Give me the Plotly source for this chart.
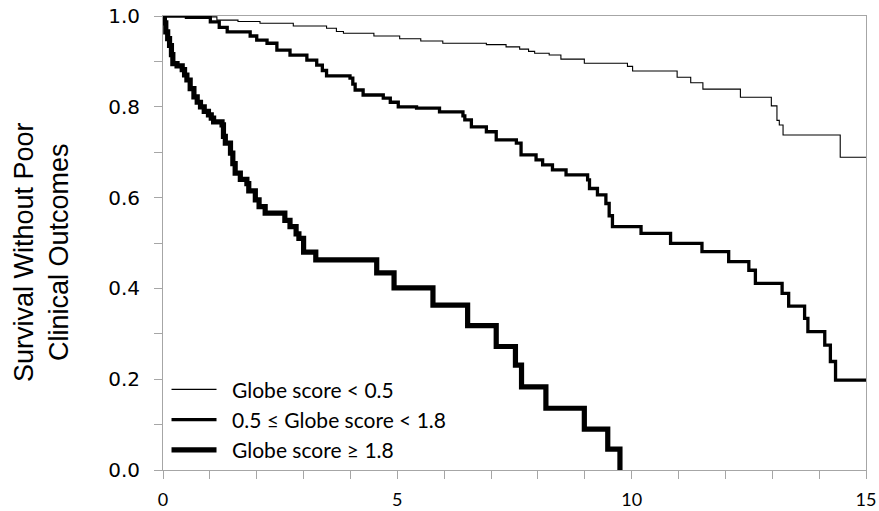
import plotly.graph_objects as go

# Globe score < 0.5 (thin)
low_t = [0, 0.5, 1.15, 1.6, 2.07, 2.78, 3.49, 3.7, 3.85, 4.5, 5.05, 5.5, 5.97, 6.9, 7.32, 7.61,
         7.8, 7.93, 8.24, 8.49, 8.99, 9.91, 10.02, 10.97, 11.26, 11.52, 12.32, 12.98, 13.1,
         13.15, 13.23, 14.45, 15]
low_s = [1.0, 0.998, 0.991, 0.988, 0.984, 0.978, 0.973, 0.966, 0.962, 0.956, 0.95, 0.945, 0.94,
         0.937, 0.932, 0.927, 0.922, 0.918, 0.914, 0.905, 0.896, 0.889, 0.879, 0.865, 0.853,
         0.839, 0.821, 0.802, 0.77, 0.76, 0.738, 0.689, 0.689]

# 0.5 <= Globe score < 1.8 (medium)
mid_t = [0, 0.5, 1.01, 1.2, 1.37, 1.86, 2.0, 2.22, 2.43, 2.71, 3.07, 3.28, 3.4, 3.49, 3.99, 4.05,
         4.1, 4.27, 4.7, 4.85, 5.02, 5.41, 5.9, 6.4, 6.44, 6.58, 6.9, 7.11, 7.54, 7.64, 7.96,
         8.1, 8.31, 8.6, 9.06, 9.1, 9.27, 9.45, 9.52, 9.59, 10.2, 10.83, 11.5, 12.07, 12.5,
         12.64, 13.21, 13.35, 13.69, 13.76, 14.12, 14.24, 14.35, 15]
mid_s = [1.0, 0.997, 0.987, 0.975, 0.965, 0.956, 0.947, 0.94, 0.925, 0.914, 0.903, 0.892, 0.88,
         0.868, 0.863, 0.85, 0.837, 0.826, 0.819, 0.81, 0.8, 0.797, 0.789, 0.78, 0.771, 0.756,
         0.745, 0.727, 0.72, 0.694, 0.683, 0.672, 0.661, 0.65, 0.639, 0.62, 0.606, 0.587, 0.56,
         0.536, 0.521, 0.499, 0.481, 0.459, 0.44, 0.411, 0.389, 0.361, 0.334, 0.305, 0.275,
         0.239, 0.198, 0.198]

# Globe score >= 1.8 (thick)
high_t = [0, 0.03, 0.06, 0.1, 0.14, 0.18, 0.21, 0.3, 0.41, 0.46, 0.51, 0.58, 0.66, 0.73, 0.8,
          0.88, 0.97, 1.03, 1.08, 1.26, 1.29, 1.33, 1.44, 1.49, 1.54, 1.65, 1.79, 1.83, 1.97,
          2.05, 2.18, 2.6, 2.71, 2.84, 2.9, 3.0, 3.26, 4.56, 4.93, 5.76, 6.5, 7.11, 7.52, 7.65,
          8.17, 8.99, 9.49, 9.75]
high_s = [1.0, 0.985, 0.965, 0.95, 0.935, 0.915, 0.895, 0.89, 0.882, 0.87, 0.859, 0.84, 0.822,
          0.81, 0.8, 0.79, 0.782, 0.775, 0.767, 0.76, 0.735, 0.72, 0.698, 0.675, 0.654, 0.64,
          0.631, 0.615, 0.595, 0.58, 0.566, 0.55, 0.536, 0.52, 0.51, 0.48, 0.463, 0.434, 0.401,
          0.363, 0.318, 0.272, 0.231, 0.183, 0.136, 0.09, 0.046, 0.0]

names = ["Globe score < 0.5", "0.5 ≤ Globe score < 1.8", "Globe score ≥ 1.8"]
widths = [1.1, 3.3, 5.2]
y_title = "Survival Without Poor<br>Clinical Outcomes"

fig = go.Figure()
for i, (t, s) in enumerate([(low_t, low_s), (mid_t, mid_s), (high_t, high_s)]):
    fig.add_trace(go.Scatter(x=t, y=s, mode="lines", name="\u2002" + names[i], legendgroup=str(i),
                             line=dict(color="black", width=widths[i], shape="hv")))

axis_color = "#a6a6a6"
fig.update_layout(
    width=879, height=511,
    margin=dict(l=163, r=13, t=16, b=41, autoexpand=False),
    paper_bgcolor="white", plot_bgcolor="white",
    showlegend=True,
    legend=dict(x=0.005, y=0.222, xanchor="left", yanchor="top",
                font=dict(family="Lato", size=21, color="black"),
                bgcolor="rgba(0,0,0,0)", itemwidth=45, tracegroupgap=13,
                traceorder="normal"),
    xaxis=dict(range=[0, 15], tickmode="linear", tick0=0, dtick=5, automargin=False,
               ticks="outside", ticklen=8, tickcolor=axis_color,
               minor=dict(dtick=1, ticks="outside", ticklen=8, tickcolor=axis_color),
               showline=True, linecolor=axis_color, linewidth=1, mirror=True,
               showgrid=False, zeroline=False,
               tickfont=dict(family="Lato", size=18, color="black"),
               ticklabelstandoff=5),
    yaxis=dict(range=[0, 1], tickmode="linear", tick0=0, dtick=0.2, tickformat=".1f",
               automargin=False,
               ticks="outside", ticklen=8, tickcolor=axis_color,
               minor=dict(dtick=0.1, ticks="outside", ticklen=8, tickcolor=axis_color),
               showline=True, linecolor=axis_color, linewidth=1, mirror=True,
               showgrid=False, zeroline=False,
               tickfont=dict(family="DejaVu Sans", size=20, color="black"),
               ticklabelstandoff=10),
    annotations=[dict(text=y_title, textangle=-90, showarrow=False,
                      xref="paper", yref="paper", x=0, y=0.5,
                      xanchor="center", yanchor="middle", xshift=-122, yshift=-9,
                      font=dict(family="Liberation Sans", size=27, color="black"))],
)

fig.write_html("out.html")
